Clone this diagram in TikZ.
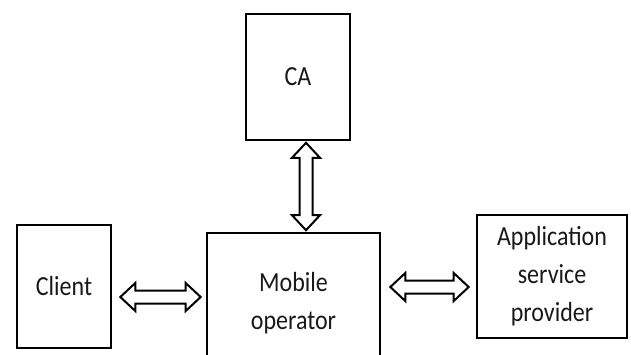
\documentclass[tikz,border=0pt]{standalone}
\usepackage{fontspec}
\setmainfont{Carlito}
\usetikzlibrary{calc}
\newcommand{\st}[1]{\scalebox{1}[1.15]{#1}}
\tikzset{
  box/.style={draw=black, line width=2.6bp, fill=white, inner sep=0pt, align=center,
    font=\fontsize{24bp}{38bp}\selectfont, text=black!90},
  dblarr/.style={draw=black, line width=2bp, fill=white, line join=miter},
}
\newcommand{\harrow}[2]{%
  \path[dblarr] let \p1=(#1), \p2=(#2) in
    (\x1,\y1) -- (\x1+15bp,\y1+14bp) -- (\x1+15bp,\y1+6.5bp) -- (\x2-15bp,\y1+6.5bp)
    -- (\x2-15bp,\y1+14bp) -- (\x2,\y1) -- (\x2-15bp,\y1-14bp) -- (\x2-15bp,\y1-6.5bp)
    -- (\x1+15bp,\y1-6.5bp) -- (\x1+15bp,\y1-14bp) -- cycle;}
\newcommand{\varrow}[2]{%
  \path[dblarr] let \p1=(#1), \p2=(#2) in
    (\x1,\y1) -- (\x1+14bp,\y1-15bp) -- (\x1+6.5bp,\y1-15bp) -- (\x1+6.5bp,\y2+15bp)
    -- (\x1+14bp,\y2+15bp) -- (\x1,\y2) -- (\x1-14bp,\y2+15bp) -- (\x1-6.5bp,\y2+15bp)
    -- (\x1-6.5bp,\y1-15bp) -- (\x1-14bp,\y1-15bp) -- cycle;}
\begin{document}
\begin{tikzpicture}[x=1bp,y=-1bp]
\useasboundingbox (0,0) rectangle (631,354);
\clip (0,0) rectangle (631,354);
\node[box, minimum width=104bp, minimum height=126bp] (ca) at (298,77) {\st{CA}};
\node[box, minimum width=94bp, minimum height=123bp] (client) at (64,286.5) {\st{Client}};
\node[box, minimum width=173bp, minimum height=135bp, text depth=0pt] (mob) at (293.5,300.5) {\st{Mobile}\\\st{operator}};
\node[box, minimum width=150bp, minimum height=123bp] (asp) at (552,276.5) {\st{Application}\\\st{service}\\\st{provider}};
\coordinate (v1) at ($(ca.south)+(8,1.5)$);
\coordinate (v2) at ($(mob.north)+(12.5,-1.5)$);
\varrow{v1}{v2}
\coordinate (l1) at ($(client.east)+(8,10.5)$);
\coordinate (l2) at ($(mob.west)+(-5,-3.5)$);
\harrow{l1}{l2}
\coordinate (r1) at ($(mob.east)+(9,-13.5)$);
\coordinate (r2) at ($(asp.west)+(-7,10.5)$);
\harrow{r1}{r2}
\end{tikzpicture}
\end{document}
